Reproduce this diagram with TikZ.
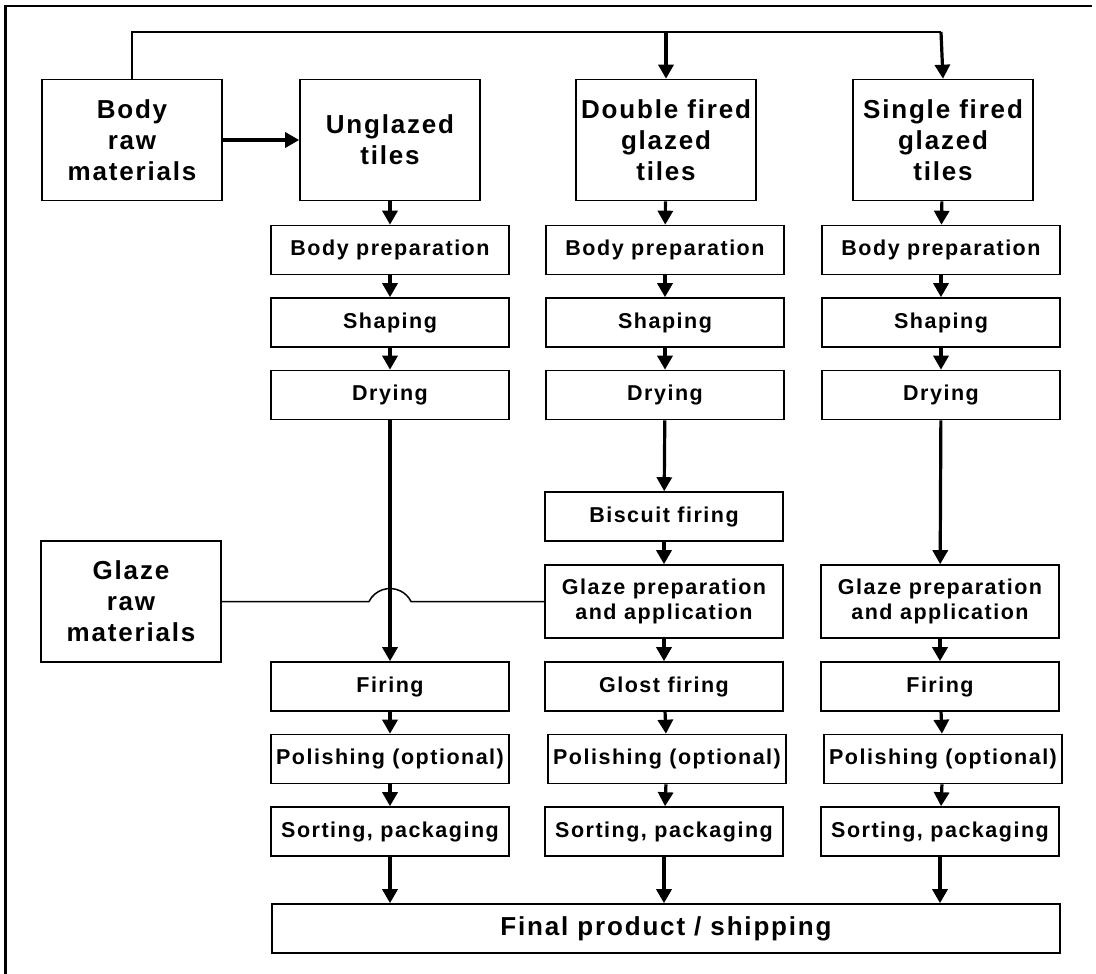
\documentclass[tikz,border=0pt]{standalone}
\usepackage{fontspec}
\setmainfont{Liberation Sans}[LetterSpace=7]
\usetikzlibrary{arrows.meta}
\usetikzlibrary{calc}

\tikzset{
  bigbox/.style={draw, line width=1.6pt, minimum width=180pt, minimum height=121pt,
                 inner sep=0pt, align=center, font=\bfseries\fontsize{26}{31}\selectfont},
  stepbox/.style={draw, line width=1.6pt, minimum width=238pt, minimum height=49pt,
                  inner sep=0pt, align=center, font=\bfseries\fontsize{21.5}{25}\selectfont},
  flow/.style={line width=3.2pt, -{Triangle[length=14pt, width=15pt]}},
  feed/.style={line width=1.5pt},
}

\begin{document}
\begin{tikzpicture}[x=1pt, y=-1pt]
            \useasboundingbox (0,0) rectangle (1096,974);
            % Frame (cut at right and bottom)
            \draw[line width=2.6pt] (1092,6) -- (5.5,6) -- (5.5,974);
            % Raw materials and tile types
            \node[bigbox] (braw)   at (132,140)   {Body\\raw\\materials};
            \node[bigbox] (unglz)  at (390,140)   {Unglazed\\tiles};
            \node[bigbox] (dfired) at (666,140)   {Double fired\\glazed\\tiles};
            \node[bigbox] (sfired) at (943,140)   {Single fired\\glazed\\tiles};
            \node[bigbox] (graw)   at (131,601.5) {Glaze\\raw\\materials};
            % Unglazed column
            \node[stepbox] (prep1)  at (390,250)   {Body preparation};
            \node[stepbox] (shape1) at (390,322.5) {Shaping};
            \node[stepbox] (dry1)   at (390,395)   {Drying};
            \node[stepbox] (fire1)  at (390,686.5) {Firing};
            \node[stepbox] (pol1)   at (390,759)   {Polishing (optional)};
            \node[stepbox] (sort1)  at (390,831.5) {Sorting, packaging};
            % Double fired column
            \node[stepbox] (prep2)  at (665,250)   {Body preparation};
            \node[stepbox] (shape2) at (665,322.5) {Shaping};
            \node[stepbox] (dry2)   at (665,395)   {Drying};
            \node[stepbox] (bisc2)  at (664,516.5) {Biscuit firing};
            \node[stepbox, minimum height=73pt] (glaze2) at (664,601.5) {Glaze preparation\\and application};
            \node[stepbox] (glost2) at (664,686.5) {Glost firing};
            \node[stepbox] (pol2)   at (667,759)   {Polishing (optional)};
            \node[stepbox] (sort2)  at (664,831.5) {Sorting, packaging};
            % Single fired column
            \node[stepbox] (prep3)  at (941,250)   {Body preparation};
            \node[stepbox] (shape3) at (941,322.5) {Shaping};
            \node[stepbox] (dry3)   at (941,395)   {Drying};
            \node[stepbox, minimum height=73pt] (glaze3) at (940,601.5) {Glaze preparation\\and application};
            \node[stepbox] (fire3)  at (940,686.5) {Firing};
            \node[stepbox] (pol3)   at (943,759)   {Polishing (optional)};
            \node[stepbox] (sort3)  at (940,831.5) {Sorting, packaging};
            % Final
            \node[stepbox, minimum width=788pt, font=\bfseries\fontsize{26}{30}\selectfont] (final) at (666,928.5) {Final product / shipping};
            % Body raw materials feed
            \coordinate (split)  at (666,32);
            \coordinate (topend) at (941,32);
            \draw[feed] (braw.north) |- (topend);
            \draw[flow] (split)  -- (dfired.north);
            \draw[flow] (topend) -- (sfired.north);
            \draw[flow] (braw)   -- (unglz);
            % Glaze raw materials feed, hopping over the unglazed line
            \coordinate (hopL) at (369,601.5);
            \draw[feed] (graw.east) -- (hopL) arc[start angle=-153.4, end angle=-26.6, radius=23.5] -- (glaze2.west);
            % Column flows
            \draw[flow] (unglz)  -- (prep1);
            \draw[flow] (prep1)  -- (shape1);
            \draw[flow] (shape1) -- (dry1);
            \draw[flow] (dry1)   -- (fire1);
            \draw[flow] (fire1)  -- (pol1);
            \draw[flow] (pol1)   -- (sort1);
            \draw[flow] (dfired) -- (prep2);
            \draw[flow] (prep2)  -- (shape2);
            \draw[flow] (shape2) -- (dry2);
            \draw[flow] (dry2)   -- (bisc2);
            \draw[flow] (bisc2)  -- (glaze2);
            \draw[flow] (glaze2) -- (glost2);
            \draw[flow] (glost2) -- (pol2);
            \draw[flow] (pol2)   -- (sort2);
            \draw[flow] (sfired) -- (prep3);
            \draw[flow] (prep3)  -- (shape3);
            \draw[flow] (shape3) -- (dry3);
            \draw[flow] (dry3)   -- (glaze3);
            \draw[flow] (glaze3) -- (fire3);
            \draw[flow] (fire3)  -- (pol3);
            \draw[flow] (pol3)   -- (sort3);
            % Into the final product
            \draw[flow] (sort1) -- (sort1 |- final.north);
            \draw[flow] (sort2) -- (sort2 |- final.north);
            \draw[flow] (sort3) -- (sort3 |- final.north);
\end{tikzpicture}
\end{document}
